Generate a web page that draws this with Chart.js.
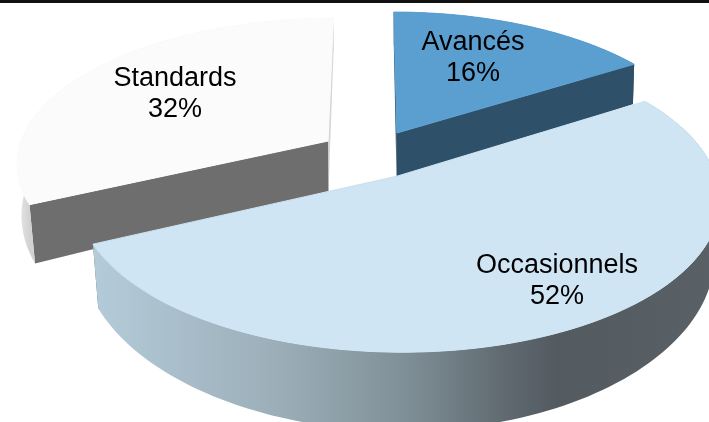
<!DOCTYPE html>
<html>
<head>
<meta charset="utf-8">
<style>
html, body { margin: 0; padding: 0; background: #fff; overflow: hidden; }
#wrap { position: relative; width: 709px; height: 422px; }
#rule { position: absolute; left: 0; top: 0; width: 709px; height: 3px; background: #111; }
</style>
<script src="https://cdn.jsdelivr.net/npm/chart.js@4/dist/chart.umd.min.js"></script>
</head>
<body>
<div id="wrap"><canvas id="chart" width="709" height="422"></canvas><div id="rule"></div></div>
<script>
const labels = ['Avancés', 'Occasionnels', 'Standards'];
const values = [16, 52, 32];
const topColors = ['#5B9FD1', '#CFE5F3', '#FBFBFB'];

// side colours: start face, end face and the gradient stops of the rim
const startFaces = ['#2E5069', '#B4CBD9', '#6E6E6E'];
const endFaces = ['#2E5069', '#55606A', '#D6D6D6'];
const rimStops = [
    [[0, '#2E5069'], [1, '#2E5069']],
    [[0, '#B4CBD9'], [0.3, '#9BAEB8'], [0.5, '#7F8F97'], [0.66, '#5F696F'], [0.74, '#535B61'], [1, '#596166']],
    [[0, '#EAEAEA'], [0.04, '#D2D2D2'], [1, '#D2D2D2']]
];
const labelAnchors = [[473, 43], [557, 266], [175, 79]];

// perspective of the pie plane
const view = { cx: 372, cy: 154, ax: 311, ay: 144, k: 0.144 };

function project(u, v, drop) {
    const w = 1 / (1 - view.k * v);
    let x = u * view.ax * w;
    let y = view.cy + v * view.ay * w;
    if (drop) {
        x *= 1 - 0.08 * (w - 0.85);
        y += 50 + 135 * (w - 0.985);
    }
    return [view.cx + x, y];
}

function planePoint(el, angle, radius) {
    const mid = (el.startAngle + el.endAngle) / 2;
    const off = el.options.offset / el.outerRadius;
    return [off * Math.cos(mid) + radius * Math.cos(angle), off * Math.sin(mid) + radius * Math.sin(angle)];
}

function rimAngles(el) {
    const list = [];
    for (let i = 0; i <= 120; i++) {
        list.push(el.startAngle + (el.endAngle - el.startAngle) * i / 120);
    }
    return list;
}

function tracePath(ctx, pts) {
    ctx.beginPath();
    pts.forEach((p, i) => (i ? ctx.lineTo(p[0], p[1]) : ctx.moveTo(p[0], p[1])));
    ctx.closePath();
}

function fillPath(ctx, pts, style) {
    tracePath(ctx, pts);
    ctx.fillStyle = style;
    ctx.fill();
}

function drawFace(ctx, el, angle, color) {
    const a = planePoint(el, angle, 0);
    const b = planePoint(el, angle, 1);
    fillPath(ctx, [project(a[0], a[1]), project(b[0], b[1]), project(b[0], b[1], true), project(a[0], a[1], true)], color);
}

function drawSlice(ctx, el, i) {
    const angles = rimAngles(el);
    const rimTop = angles.map(a => { const p = planePoint(el, a, 1); return project(p[0], p[1]); });
    const rimBottom = angles.map(a => { const p = planePoint(el, a, 1); return project(p[0], p[1], true); });

    drawFace(ctx, el, el.endAngle, endFaces[i]);
    drawFace(ctx, el, el.startAngle, startFaces[i]);

    const xs = rimTop.concat(rimBottom).map(p => p[0]);
    const grad = ctx.createLinearGradient(Math.min(...xs), 0, Math.max(...xs), 0);
    rimStops[i].forEach(s => grad.addColorStop(s[0], s[1]));
    fillPath(ctx, rimTop.concat(rimBottom.slice().reverse()), grad);

    // top surface, stroked in its own colour so the wall behind does not show at the edge
    const apex = planePoint(el, 0, 0);
    const surface = [project(apex[0], apex[1])].concat(rimTop);
    fillPath(ctx, surface, el.options.backgroundColor);
    ctx.strokeStyle = el.options.backgroundColor;
    ctx.lineWidth = 1;
    ctx.stroke();
}

const pie3d = {
    id: 'pie3d',
    beforeDatasetsDraw(chart) {
        const ctx = chart.ctx;
        const arcs = chart.getDatasetMeta(0).data;
        ctx.save();
        // back slices first, the big front slice last
        [0, 2, 1].forEach(i => drawSlice(ctx, arcs[i], i));
        ctx.fillStyle = '#000';
        ctx.font = '27px "Liberation Sans", Arial, sans-serif';
        ctx.textAlign = 'center';
        ctx.textBaseline = 'middle';
        labels.forEach((name, i) => {
            ctx.fillText(name, labelAnchors[i][0], labelAnchors[i][1]);
            ctx.fillText(values[i] + '%', labelAnchors[i][0], labelAnchors[i][1] + 31);
        });
        ctx.restore();
        return false;
    }
};

new Chart(document.getElementById('chart'), {
    type: 'pie',
    data: {
        labels: labels,
        datasets: [{ data: values, backgroundColor: topColors, offset: 33, borderWidth: 0 }]
    },
    options: {
        responsive: false,
        animation: false,
        plugins: { legend: { display: false }, tooltip: { enabled: false } }
    },
    plugins: [pie3d]
});
</script>
</body>
</html>
